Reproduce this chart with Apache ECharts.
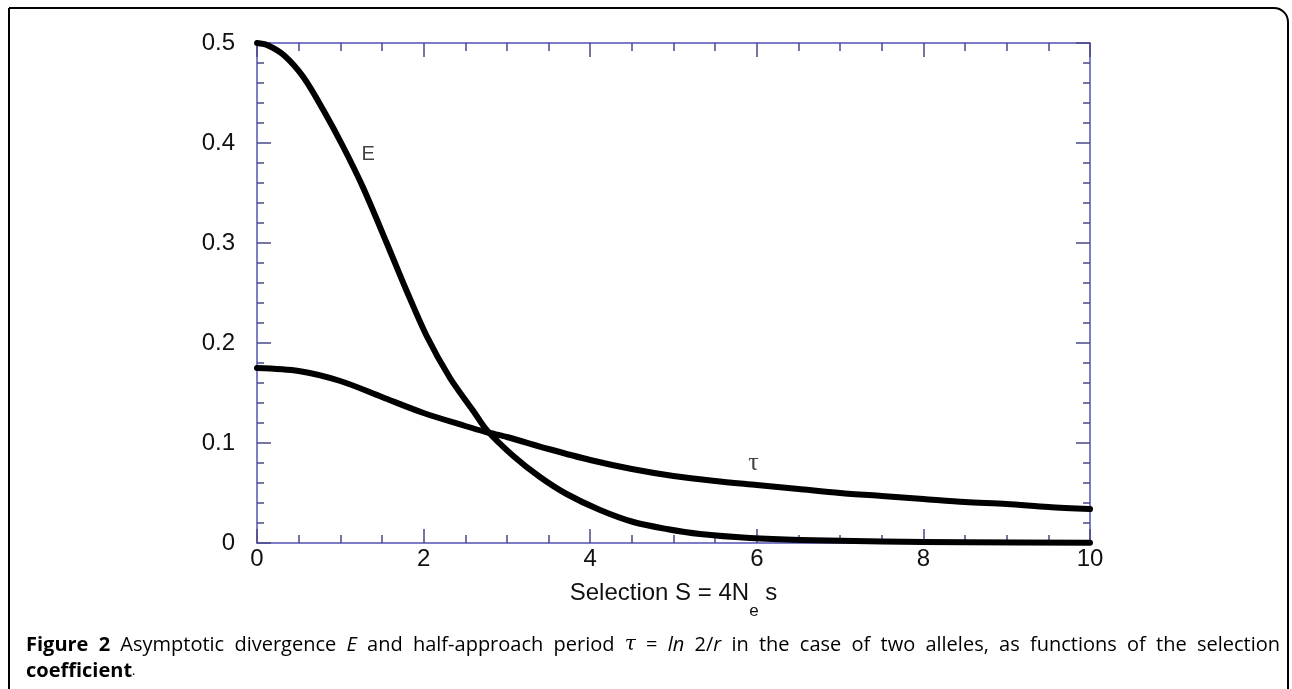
<!DOCTYPE html>
<html>
<head>
<meta charset="utf-8">
<script src="https://cdn.jsdelivr.net/npm/echarts@6/dist/echarts.min.js"></script>
<style>
html,body{margin:0;padding:0;background:#fff;}
#chart{width:1292px;height:689px;}
</style>
</head>
<body>
<div id="chart"></div>
<script>
// ---- data ----
const sE    = [0, 0.12, 0.32, 0.556, 0.796, 1.036, 1.276, 1.557, 1.797, 2.037, 2.317, 2.597, 2.757, 3.077, 3.397, 3.717, 4.118, 4.518, 4.918, 5.318, 5.918, 6.52, 7.5, 8.5, 10];
const eVals = [0.500, 0.498, 0.488, 0.466, 0.433, 0.396, 0.355, 0.300, 0.252, 0.207, 0.165, 0.132, 0.113, 0.087, 0.066, 0.049, 0.033, 0.021, 0.014, 0.009, 0.005, 0.003, 0.0015, 0.0008, 0.0002];
const sTau    = [0, 0.5, 1.0, 1.5, 2.0, 2.5, 2.75, 3.0, 3.5, 4.0, 4.5, 5.0, 5.5, 6.0, 6.5, 7.0, 7.5, 8.0, 8.5, 9.0, 9.5, 10];
const tauVals = [0.175, 0.172, 0.162, 0.146, 0.130, 0.117, 0.111, 0.106, 0.094, 0.083, 0.074, 0.067, 0.062, 0.058, 0.054, 0.050, 0.047, 0.044, 0.041, 0.039, 0.036, 0.034];
const curveLabels = [
  {name: 'E', pos: [1.336, 0.389]},
  {name: 'τ', pos: [5.96, 0.080]}
];
const xTickValues = [0, 2, 4, 6, 8, 10];
const yTickValues = [0, 0.1, 0.2, 0.3, 0.4, 0.5];
const xTitle = 'Selection S = 4N';
// caption pieces: [text, style]
const captionLine1 = [
  ['Figure 2', 'b'], [' Asymptotic divergence ', 'n'], ['E', 'i'], [' and half-approach period ', 'n'],
  ['τ', 'g'], [' = ', 'n'], ['ln', 'i'], [' 2/', 'n'], ['r', 'i'],
  [' in the case of two alleles, as functions of the selection', 'n']
];
const captionLine2 = 'coefficient';

const AXIS_COLOR = '#5252b6';
const TICK_COLOR = '#4a4a86';
const CAP_SIZE = 20;
const CAP_FONTS = {
  b: 'bold ' + CAP_SIZE + 'px "Open Sans"',
  n: CAP_SIZE + 'px "Open Sans"',
  i: 'italic ' + CAP_SIZE + 'px "Open Sans"',
  g: 'italic ' + CAP_SIZE + 'px "DejaVu Serif"'
};

// build a justified rich string for caption line 1
function buildJustified(pieces, targetWidth) {
  const cv = document.createElement('canvas').getContext('2d');
  const toks = [];
  pieces.forEach(([txt, st]) => {
    const parts = txt.split(' ');
    parts.forEach((p, k) => {
      if (k > 0) toks.push({sp: true});
      if (p.length) toks.push({t: p, st: st});
    });
  });
  let w = 0, nsp = 0;
  toks.forEach(t => {
    if (t.sp) { nsp++; return; }
    cv.font = CAP_FONTS[t.st];
    w += cv.measureText(t.t).width;
  });
  const spW = Math.max(3, (targetWidth - w) / nsp);
  const str = toks.map(t => t.sp ? '{sp| }' : '{' + t.st + '|' + t.t + '}').join('');
  return {str, spW};
}
const cap1 = buildJustified(captionLine1, 1254);

const chart = echarts.init(document.getElementById('chart'), null, {renderer: 'canvas'});

function mkX(pos, showLabel) {
  return {
    type: 'value', min: 0, max: 10, interval: 2, position: pos,
    axisLine: {show: true, onZero: false, lineStyle: {color: AXIS_COLOR, width: 1.5}},
    axisTick: {show: true, inside: true, length: 14, lineStyle: {color: TICK_COLOR, width: 1.5}},
    minorTick: {show: true, splitNumber: 4, length: 8, lineStyle: {color: TICK_COLOR, width: 1.5}},
    splitLine: {show: false},
    axisLabel: {show: showLabel, fontSize: 24, color: '#111', fontFamily: 'Liberation Sans', margin: 4,
      formatter: v => xTickValues.includes(v) ? String(v) : ''},
    name: showLabel ? '{n|' + xTitle + '}{s|e}{n| s}' : '',
    nameLocation: 'middle', nameGap: 38,
    nameTextStyle: {
      rich: {
        n: {fontSize: 24, fontFamily: 'Liberation Sans', color: '#111', verticalAlign: 'top', lineHeight: 26},
        s: {fontSize: 17, fontFamily: 'Liberation Sans', color: '#111', verticalAlign: 'top', lineHeight: 17, padding: [22, 0, 0, 0]}
      }
    }
  };
}
function mkY(pos, showLabel) {
  return {
    type: 'value', min: 0, max: 0.5, interval: 0.1, position: pos,
    axisLine: {show: true, onZero: false, lineStyle: {color: AXIS_COLOR, width: 1.5}},
    axisTick: {show: true, inside: true, length: 14, lineStyle: {color: TICK_COLOR, width: 1.5}},
    minorTick: {show: true, splitNumber: 5, length: 7, lineStyle: {color: TICK_COLOR, width: 1.5}},
    splitLine: {show: false},
    axisLabel: {show: showLabel, fontSize: 24, color: '#111', fontFamily: 'Liberation Sans', margin: 22,
      formatter: v => { const r = Math.round(v * 10) / 10; return yTickValues.includes(r) ? String(r) : ''; }}
  };
}

const option = {
  backgroundColor: '#fff',
  animation: false,
  grid: {left: 257, right: 202, top: 43, bottom: 146, containLabel: false},
  xAxis: [mkX('bottom', true), mkX('top', false)],
  yAxis: [mkY('left', true), mkY('right', false)],
  series: [
    {
      type: 'line', name: 'E', xAxisIndex: 0, yAxisIndex: 0,
      data: sE.map((s, i) => [s, eVals[i]]),
      showSymbol: false, smooth: 0.3,
      lineStyle: {color: '#000', width: 6, cap: 'round', join: 'round'}
    },
    {
      type: 'line', name: 'tau', xAxisIndex: 0, yAxisIndex: 0,
      data: sTau.map((s, i) => [s, tauVals[i]]),
      showSymbol: false, smooth: 0.3,
      lineStyle: {color: '#000', width: 6, cap: 'round', join: 'round'}
    },
    {
      type: 'scatter', xAxisIndex: 0, yAxisIndex: 0, symbolSize: 0, silent: true,
      data: curveLabels.map(d => ({value: d.pos, name: d.name})),
      label: {
        show: true, position: 'inside', color: '#111',
        formatter: p => p.name === 'τ' ? '{t|τ}' : '{e|E}',
        rich: {
          e: {fontSize: 20, fontFamily: 'Liberation Sans', color: '#111'},
          t: {fontSize: 26, fontFamily: 'Liberation Serif', color: '#111'}
        }
      }
    }
  ],
  graphic: [
    {
      type: 'rect', silent: true, z: -1,
      shape: {x: 9, y: 8, width: 1279, height: 720, r: [0, 14, 0, 0]},
      style: {fill: 'none', stroke: '#000', lineWidth: 2}
    },
    {
      type: 'text', left: 26, top: 635,
      style: {
        text: cap1.str,
        rich: {
          b: {font: CAP_FONTS.b, fill: '#000'},
          n: {font: CAP_FONTS.n, fill: '#000'},
          i: {font: CAP_FONTS.i, fill: '#000'},
          g: {font: CAP_FONTS.g, fill: '#000'},
          sp: {font: CAP_FONTS.n, width: cap1.spW, fill: '#000'}
        }
      }
    },
    {
      type: 'text', left: 26, top: 661,
      style: {
        text: '{b|' + captionLine2 + '}{p|.}',
        rich: {
          b: {font: CAP_FONTS.b, fill: '#000'},
          p: {font: '13px "Open Sans"', fill: '#000'}
        }
      }
    }
  ]
};
chart.setOption(option);
</script>
</body>
</html>
